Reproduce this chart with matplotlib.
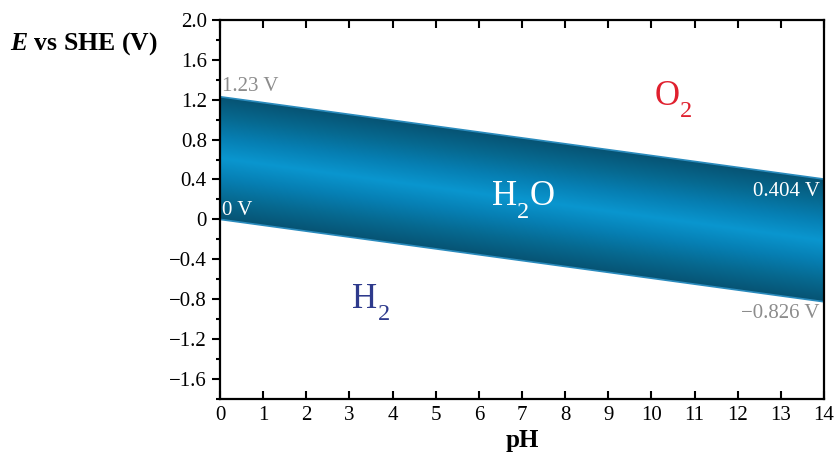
import matplotlib.pyplot as plt
import numpy as np
from matplotlib.colors import LinearSegmentedColormap
from matplotlib.ticker import MultipleLocator, FuncFormatter

plt.rcParams['font.family'] = ['Liberation Serif', 'DejaVu Serif']
plt.rcParams['mathtext.fontset'] = 'custom'
plt.rcParams['mathtext.rm'] = 'Liberation Serif'
plt.rcParams['mathtext.it'] = 'Liberation Serif:italic'
plt.rcParams['mathtext.bf'] = 'Liberation Serif:bold'
plt.rcParams['mathtext.bfit'] = 'Liberation Serif:italic:bold'

# water stability limits
ph = [0, 14]
e_o2 = [1.23, 0.404]     # O2/H2O line
e_h2 = [0.0, -0.826]     # H+/H2 line

fig = plt.figure(figsize=(8.37, 4.58), dpi=100)
ax = fig.add_axes([0.2628, 0.129, 0.7217, 0.8275])
ax.set_xlim(0, 14)
ax.set_ylim(-1.8, 2.0)

# band with gradient across its width
xs = np.linspace(0, 14, 400)
ys = np.linspace(-1.8, 2.0, 800)
X, Y = np.meshgrid(xs, ys)
top = np.interp(X, ph, e_o2)
bot = np.interp(X, ph, e_h2)
t = (Y - bot) / (top - bot)
d = np.clip(np.abs(t - 0.5) * 2, 0, 1)
cmap = LinearSegmentedColormap.from_list(
    'band', ['#0a96cf', '#067fb3', '#066990', '#075373'])
img = ax.imshow(d, extent=(0, 14, -1.8, 2.0), origin='lower', aspect='auto',
                cmap=cmap, vmin=0, vmax=1, zorder=1)
poly = ax.fill_between(ph, e_h2, e_o2, color='none', lw=0)
clip = poly.get_paths()[0]
img.set_clip_path(clip, ax.transData)
ax.plot(ph, e_o2, color='#2a8bbd', lw=1.2, zorder=2)
ax.plot(ph, e_h2, color='#2a8bbd', lw=1.2, zorder=2)

# labels
ax.text(0.05, 1.33, '1.23 V', color='#8c8c8c', fontsize=15, ha='left', va='center')
ax.text(0.05, 0.09, '0 V', color='white', fontsize=15, ha='left', va='center')
ax.text(13.9, 0.28, '0.404 V', color='white', fontsize=15, ha='right', va='center')
ax.text(13.9, -0.94, '\u22120.826 V', color='#8c8c8c', fontsize=15, ha='right', va='center')


def formula(x, y, parts, color, size=25):
    # parts: list of (text, is_subscript)
    prev = None
    prev_sub = False
    for txt, sub in parts:
        fs = size * 0.7 if sub else size
        if prev is None:
            prev = ax.text(x, y, txt, color=color, fontsize=fs, va='baseline', ha='left')
        else:
            dy = 0
            if sub and not prev_sub:
                dy = -7
            elif prev_sub and not sub:
                dy = 7
            prev = ax.annotate(txt, xy=(1, 0), xycoords=prev, xytext=(0.3, dy),
                               textcoords='offset points', va='bottom', ha='left',
                               color=color, fontsize=fs)
        prev_sub = sub


formula(6.30, 0.14, [('H', False), ('2', True), ('O', False)], 'white')
formula(10.08, 1.15, [('O', False), ('2', True)], '#e0202e')
formula(3.06, -0.885, [('H', False), ('2', True)], '#2e3a8c')

# axes styling
for s in ax.spines.values():
    s.set_linewidth(1.6)
ax.xaxis.set_major_locator(MultipleLocator(1))
ax.yaxis.set_major_locator(MultipleLocator(0.4))
ax.yaxis.set_minor_locator(MultipleLocator(0.2))

def fmt(v, pos):
    if abs(v) < 1e-9:
        return '0'
    return f'{v:.1f}'.replace('-', '\u2212')

ax.yaxis.set_major_formatter(FuncFormatter(fmt))
ax.tick_params(axis='x', which='major', direction='in', top=True, bottom=True,
               length=6, width=1.5, labelsize=15, pad=5)
ax.tick_params(axis='y', which='major', direction='out', right=False,
               length=6, width=1.5, labelsize=15)
ax.tick_params(axis='y', which='minor', direction='out', right=False,
               length=3, width=1.5)
ax.set_ylim(-1.8, 2.0)

ax.set_xlabel('pH', fontsize=18, fontweight='bold', labelpad=3)
fig.text(0.012, 0.905, '$\\mathbfit{E}$ vs SHE (V)', fontsize=18.5, fontweight='bold',
         ha='left', va='center')

plt.savefig('out.png', dpi=100)
